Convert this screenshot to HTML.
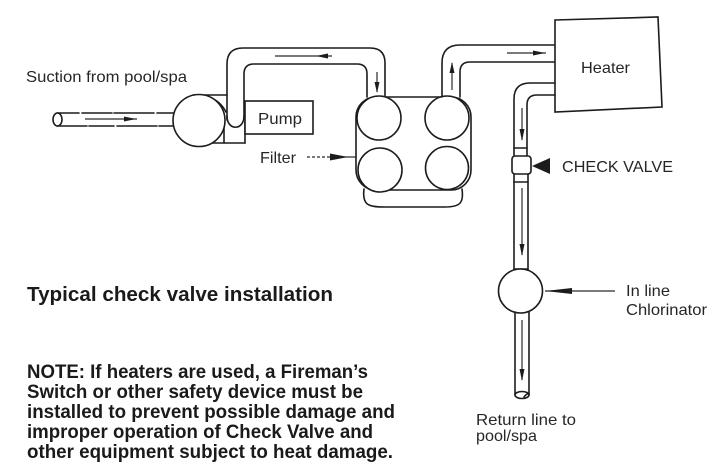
<!DOCTYPE html>
<html>
<head>
<meta charset="utf-8">
<style>
  html, body { margin: 0; padding: 0; background: #ffffff; }
  body { width: 715px; height: 473px; overflow: hidden; }
  svg { display: block; }
  .ln { fill: none; stroke: #1c1c1c; stroke-width: 1.6; stroke-linecap: round; stroke-linejoin: round; }
  .wf { fill: #ffffff; stroke: #1c1c1c; stroke-width: 1.6; }
  .ar { fill: none; stroke: #2a2a2a; stroke-width: 1.2; }
  .hd { fill: #1c1c1c; stroke: none; }
  .lbl { font-family: "Liberation Sans", Arial, sans-serif; font-size: 16px; fill: #262626; }
  .bld { font-family: "Liberation Sans", Arial, sans-serif; font-weight: bold; fill: #1a1a1a; }
</style>
</head>
<body>
<svg width="715" height="473" viewBox="0 0 715 473" xmlns="http://www.w3.org/2000/svg">

  <!-- Suction pipe -->
  <line class="ln" x1="57" y1="113" x2="175" y2="113" stroke-dasharray="22 3 30 2 40 3"/>
  <line class="ln" x1="57" y1="126" x2="175" y2="126" stroke-dasharray="30 2 25 3 40 2"/>
  <ellipse class="wf" cx="57.5" cy="119.5" rx="4.5" ry="6.5"/>
  <line class="ar" x1="85" y1="119" x2="137" y2="119"/>
  <polygon class="hd" points="136,119 124,116.5 124,121.5"/>

  <!-- Pump housing -->
  <line class="ln" x1="193" y1="95" x2="227" y2="95"/>
  <path class="ln" d="M206,96 Q220,100 226,112"/>
  <line class="ln" x1="211" y1="143" x2="245" y2="143"/>
  <line class="ln" x1="245" y1="122" x2="245" y2="143"/>
  <line class="ln" x1="224" y1="126" x2="224" y2="143"/>

  <!-- Pump circle -->
  <circle class="wf" cx="199" cy="120.5" r="26"/>

  <!-- Motor box -->
  <rect class="wf" x="245" y="101" width="68" height="33"/>

  <!-- Pipe pump -> filter -->
  <path class="ln" d="M227,120 L227,64 Q227,48 243,48 L370,48 Q385,48 385,63 L385,97"/>
  <path class="ln" d="M244,118 L244,74 Q244,64 254,64 L357,64 Q367,64 367,74 L367,97"/>
  <path class="ln" d="M227,116 C227,131 244,131 244,116"/>
  <line class="ar" x1="275" y1="56" x2="332" y2="56"/>
  <polygon class="hd" points="316,56 328,53.5 328,58.5"/>
  <line class="ar" x1="377" y1="72" x2="377" y2="92"/>
  <polygon class="hd" points="377,93 374.5,82 379.5,82"/>

  <!-- Filter -->
  <path class="ln" d="M364,189 C362,205 368,207 385,207 L445,207 C460,207 464,203 462,189"/>
  <rect class="wf" x="356" y="97" width="115" height="93" rx="20" ry="20"/>
  <circle class="wf" cx="379" cy="118" r="22"/>
  <circle class="wf" cx="447" cy="118" r="22"/>
  <circle class="wf" cx="380" cy="170" r="22"/>
  <circle class="wf" cx="447" cy="168" r="21.5"/>

  <!-- Filter label arrow -->
  <line class="ar" x1="307" y1="157" x2="330" y2="157" stroke-dasharray="3 2"/>
  <line class="ar" x1="330" y1="157" x2="356" y2="157"/>
  <polygon class="hd" points="348,157 330,153.5 330,160.5"/>

  <!-- Pipe filter -> heater -->
  <path class="ln" d="M442,97 L442,63 Q442,45 460,45 L555,45"/>
  <path class="ln" d="M460,97 L460,72 Q460,62 470,62 L555,62"/>
  <line class="ar" x1="452" y1="90" x2="452" y2="63"/>
  <polygon class="hd" points="452,62 449.5,73 454.5,73"/>
  <line class="ar" x1="507" y1="53" x2="546" y2="53"/>
  <polygon class="hd" points="545,53 533,50.5 533,55.5"/>

  <!-- Heater -->
  <polygon class="wf" points="555,20 658,17 662,107 555,112"/>

  <!-- Return pipe -->
  <path class="ln" d="M555,83 L530,83 Q514,83 514,99 L514,156"/>
  <path class="ln" d="M555,95 L537,95 Q527,95 527,105 L527,156"/>
  <line class="ln" x1="514" y1="148" x2="527" y2="148"/>
  <line class="ar" x1="522" y1="108" x2="522" y2="140"/>
  <polygon class="hd" points="522,141 519.5,129 524.5,129"/>

  <!-- Check valve -->
  <rect class="wf" x="512" y="156" width="19" height="18" rx="3" ry="3"/>
  <line class="ln" x1="514" y1="174" x2="514" y2="271"/>
  <line class="ln" x1="528" y1="174" x2="528" y2="271"/>
  <line class="ln" x1="514" y1="182" x2="528" y2="182"/>
  <line class="ar" x1="522" y1="188" x2="522" y2="255"/>
  <polygon class="hd" points="522,256 519.5,244 524.5,244"/>
  <polygon class="hd" points="532,166 550,158 550,174"/>

  <!-- Chlorinator -->
  <line class="ln" x1="514" y1="269" x2="528" y2="269"/>
  <circle class="wf" cx="520.5" cy="291" r="22"/>
  <line class="ln" x1="515" y1="312" x2="515" y2="395"/>
  <line class="ln" x1="529" y1="312" x2="529" y2="395"/>
  <ellipse class="wf" cx="522" cy="395" rx="7" ry="3.5"/>
  <path class="ln" d="M524,397 Q527,393 529,394"/>
  <line class="ar" x1="522" y1="320" x2="522" y2="380"/>
  <polygon class="hd" points="522,381 519.5,369 524.5,369"/>
  <line class="ar" x1="545" y1="291" x2="615" y2="291"/>
  <polygon class="hd" points="545,291 572,288 572,294"/>

  <!-- Labels -->
  <text class="lbl" x="26" y="82" textLength="161" lengthAdjust="spacingAndGlyphs">Suction from pool/spa</text>
  <text class="lbl" x="258" y="124" textLength="44" lengthAdjust="spacingAndGlyphs">Pump</text>
  <text class="lbl" x="260" y="163" textLength="36" lengthAdjust="spacingAndGlyphs">Filter</text>
  <text class="lbl" x="581" y="73" textLength="49" lengthAdjust="spacingAndGlyphs">Heater</text>
  <text class="lbl" x="562" y="172" textLength="111" lengthAdjust="spacingAndGlyphs">CHECK VALVE</text>
  <text class="lbl" x="626" y="296" textLength="44" lengthAdjust="spacingAndGlyphs">In line</text>
  <text class="lbl" x="626" y="315" textLength="81" lengthAdjust="spacingAndGlyphs">Chlorinator</text>
  <text class="lbl" x="476" y="425" textLength="100" lengthAdjust="spacingAndGlyphs">Return line to</text>
  <text class="lbl" x="476" y="441" textLength="61" lengthAdjust="spacingAndGlyphs">pool/spa</text>

  <!-- Bold texts -->
  <text class="bld" x="27" y="301" font-size="20" textLength="306" lengthAdjust="spacingAndGlyphs">Typical check valve installation</text>
  <text class="bld" x="27" y="378" font-size="19" textLength="341" lengthAdjust="spacingAndGlyphs">NOTE: If heaters are used, a Fireman’s</text>
  <text class="bld" x="27" y="398" font-size="19" textLength="336" lengthAdjust="spacingAndGlyphs">Switch or other safety device must be</text>
  <text class="bld" x="27" y="418" font-size="19" textLength="368" lengthAdjust="spacingAndGlyphs">installed to prevent possible damage and</text>
  <text class="bld" x="27" y="438" font-size="19" textLength="346" lengthAdjust="spacingAndGlyphs">improper operation of Check Valve and</text>
  <text class="bld" x="27" y="458" font-size="19" textLength="366" lengthAdjust="spacingAndGlyphs">other equipment subject to heat damage.</text>
</svg>
</body>
</html>
